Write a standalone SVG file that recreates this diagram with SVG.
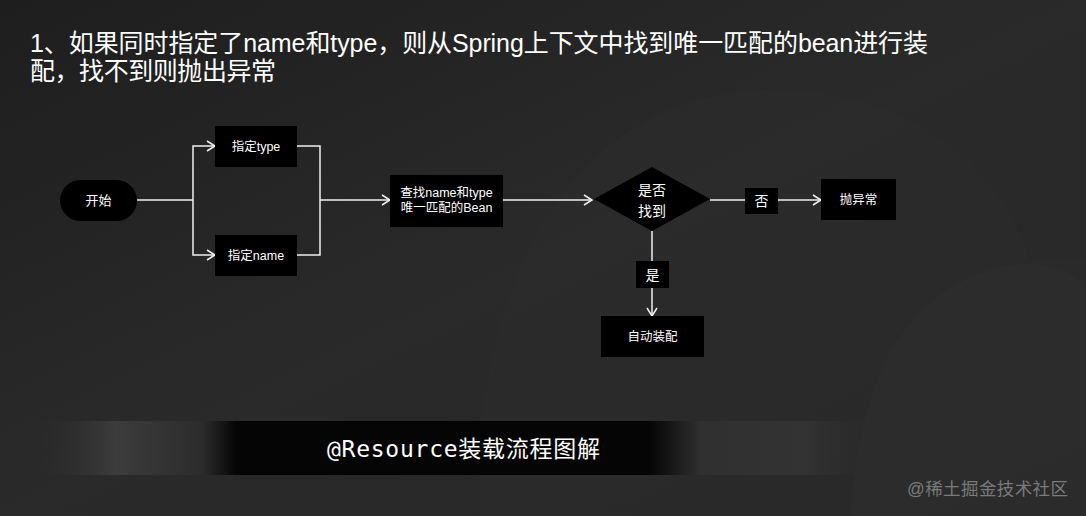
<svg xmlns="http://www.w3.org/2000/svg" width="1086" height="516" viewBox="0 0 1086 516">
<defs>
<linearGradient id="bg" x1="0" y1="0" x2="1" y2="1">
<stop offset="0" stop-color="#1e1e1e"/>
<stop offset="0.5" stop-color="#2a2a2a"/>
<stop offset="1" stop-color="#262626"/>
</linearGradient>
<linearGradient id="band" x1="0" y1="0" x2="1" y2="0">
<stop offset="0" stop-color="#2a2a2a" stop-opacity="0"/>
<stop offset="0.1" stop-color="#3c3c3c"/>
<stop offset="0.2" stop-color="#2c2c2c"/>
<stop offset="0.24" stop-color="#050505"/>
<stop offset="0.72" stop-color="#050505"/>
<stop offset="0.78" stop-color="#303030"/>
<stop offset="0.9" stop-color="#333333"/>
<stop offset="1" stop-color="#2a2a2a" stop-opacity="0"/>
</linearGradient>
<marker id="arr" viewBox="0 0 10 12" refX="9" refY="6" markerWidth="10" markerHeight="12" markerUnits="userSpaceOnUse" orient="auto">
<path d="M1,1 L9,6 L1,11" fill="none" stroke="#f0f0f0" stroke-width="1.5"/>
</marker>
<style>
.t{font-family:"Liberation Sans","Noto Sans CJK SC",sans-serif;fill:#ffffff}
.n{fill:#000000}
.c{fill:none;stroke:#f0f0f0;stroke-width:1.5}
.lbl{font-family:"Liberation Sans","Noto Sans CJK SC",sans-serif;fill:#ffffff;font-size:12.5px;text-anchor:middle;dominant-baseline:central}
</style>
</defs>
<rect width="1086" height="516" fill="url(#bg)"/>
<g opacity="0.35">
<path d="M480,516 C470,300 560,100 760,90 C900,85 1000,160 1030,260 L1086,260 L1086,516 Z" fill="#2e2e2e"/>
<path d="M850,516 C860,380 900,300 990,270 C1040,255 1086,270 1086,300 L1086,516 Z" fill="#363636"/>
</g>
<text class="t" x="30" y="52" font-size="25" textLength="898">1、如果同时指定了name和type，则从Spring上下文中找到唯一匹配的bean进行装</text>
<text class="t" x="30" y="80" font-size="25" textLength="246">配，找不到则抛出异常</text>
<g id="connectors">
<path class="c" d="M137,200 H193"/>
<path class="c" d="M193,200 V146 H215" marker-end="url(#arr)"/>
<path class="c" d="M193,200 V255 H215" marker-end="url(#arr)"/>
<path class="c" d="M297,146 H320 V255 H297"/>
<path class="c" d="M320,200 H390" marker-end="url(#arr)"/>
<path class="c" d="M503,200 H592" marker-end="url(#arr)"/>
<path class="c" d="M710,200 H745"/>
<path class="c" d="M778,200 H821" marker-end="url(#arr)"/>
<path class="c" d="M652,231 V261"/>
<path class="c" d="M652,288 V316" marker-end="url(#arr)"/>
<g id="label-no">
<rect class="n" x="745" y="188" width="33" height="26"/>
<text class="lbl" x="761.5" y="201" style="font-size:14px">否</text>
</g>
<g id="label-yes">
<rect class="n" x="636" y="261" width="33" height="27"/>
<text class="lbl" x="652.5" y="274.5" style="font-size:14px">是</text>
</g>
</g>
<g id="start">
<rect class="n" x="60" y="180" width="77" height="41" rx="20.5"/>
<text class="lbl" x="98.5" y="200.5" style="font-size:13px">开始</text>
</g>
<g id="type">
<rect class="n" x="215" y="126" width="82" height="41"/>
<text class="lbl" x="256" y="146.5">指定type</text>
</g>
<g id="name">
<rect class="n" x="215" y="235" width="82" height="41"/>
<text class="lbl" x="256" y="255.5">指定name</text>
</g>
<g id="find">
<rect class="n" x="390" y="175" width="113" height="52"/>
<text class="lbl" x="446.5" y="193">查找name和type</text>
<text class="lbl" x="446.5" y="208">唯一匹配的Bean</text>
</g>
<g id="decision">
<polygon class="n" points="652,167 710,199 652,231 594,199"/>
<text class="lbl" x="652" y="190" style="font-size:14px">是否</text>
<text class="lbl" x="652" y="211" style="font-size:14px">找到</text>
</g>
<g id="throw">
<rect class="n" x="821" y="179" width="75" height="41"/>
<text class="lbl" x="858.5" y="199.5">抛异常</text>
</g>
<g id="autowire">
<rect class="n" x="601" y="316" width="103" height="41"/>
<text class="lbl" x="652.5" y="336.5">自动装配</text>
</g>
<rect x="30" y="421" width="860" height="54" fill="url(#band)"/>
<text x="327" y="457" font-size="23" textLength="273" style="font-family:'DejaVu Sans Mono','Noto Sans CJK SC',monospace;fill:#ffffff">@Resource装载流程图解</text>
<text x="907" y="495" font-size="17.5" textLength="161" style="font-family:'Liberation Sans','Noto Sans CJK SC',sans-serif;fill:#7a7a7a">@稀土掘金技术社区</text>
</svg>
